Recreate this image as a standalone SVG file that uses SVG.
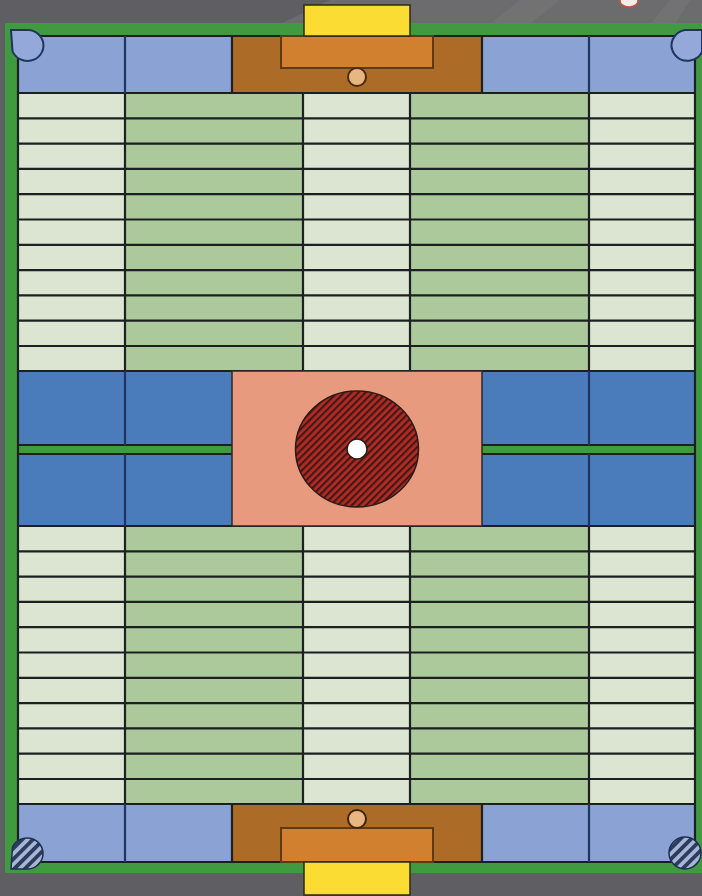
<svg xmlns="http://www.w3.org/2000/svg" width="702" height="896" viewBox="0 0 702 896">
<style>
.l{fill:#dbe5d1}.g{fill:#abc99b}.c{fill:#8aa2d4}.b{fill:#4a7cbb}
.ln{stroke:#1c2020;stroke-width:2.2;fill:none}
.nv{stroke:#1e3560;stroke-width:2.2;fill:none}
.cell{stroke:#2a2a26;stroke-width:1.5}
</style>
<defs>
<pattern id="hr" width="5" height="5" patternUnits="userSpaceOnUse" patternTransform="rotate(-45)"><rect width="5" height="5" fill="#b52a22"/><rect width="5" height="2.200" fill="#3f1a18"/></pattern>
<pattern id="hb" width="7.500" height="7.500" patternUnits="userSpaceOnUse" patternTransform="rotate(-45)"><rect width="7.500" height="7.500" fill="#a9b6d8"/><rect width="7.500" height="3.800" fill="#2c3c5e"/></pattern>
</defs>
<g id="background">
<rect width="702" height="896" fill="#5f5e63"/>
<path d="M280 24L330 0H702V24Z" fill="#6c6b6d"/>
<path d="M490 24L520 0H560L530 24ZM650 24L670 0H690L675 24Z" fill="#737273"/>
<ellipse cx="629" cy="1" rx="9" ry="6" fill="#f4ece8" stroke="#c8503c" stroke-width="1.500"/>
</g>
<g id="border"><rect x="5" y="23" width="697" height="850" fill="#409a3f"/></g>
<g id="top-end">
<rect class="c" x="18" y="36" width="214" height="57"/>
<rect class="c" x="482" y="36" width="213" height="57"/>
<rect x="232" y="36" width="250" height="57" fill="#ac6b26"/>
</g>
<g id="bottom-end">
<rect class="c" x="18" y="804" width="214" height="58"/>
<rect class="c" x="482" y="804" width="213" height="58"/>
<rect x="232" y="804" width="250" height="58" fill="#ac6b26"/>
</g>
<g id="upper-rows">
<rect class="l" x="18" y="93" width="107" height="278"/>
<rect class="g" x="125" y="93" width="178" height="278"/>
<rect class="l" x="303" y="93" width="107" height="278"/>
<rect class="g" x="410" y="93" width="179" height="278"/>
<rect class="l" x="589" y="93" width="106" height="278"/>
<path class="ln" d="M18 118.300H695M18 143.600H695M18 168.900H695M18 194.200H695M18 219.500H695M18 244.800H695M18 270.100H695M18 295.400H695M18 320.700H695M18 346H695"/>
</g>
<g id="lower-rows">
<rect class="l" x="18" y="526" width="107" height="278"/>
<rect class="g" x="125" y="526" width="178" height="278"/>
<rect class="l" x="303" y="526" width="107" height="278"/>
<rect class="g" x="410" y="526" width="179" height="278"/>
<rect class="l" x="589" y="526" width="106" height="278"/>
<path class="ln" d="M18 551.300H695M18 576.600H695M18 601.900H695M18 627.200H695M18 652.500H695M18 677.800H695M18 703.100H695M18 728.400H695M18 753.700H695M18 779H695"/>
</g>
<g id="midfield">
<rect class="b" x="18" y="371" width="214" height="74"/>
<rect class="b" x="482" y="371" width="213" height="74"/>
<rect class="b" x="18" y="454" width="214" height="72"/>
<rect class="b" x="482" y="454" width="213" height="72"/>
<path class="ln" d="M18 445H232M482 445H695M18 454H232M482 454H695"/>
</g>
<g id="grid-lines">
<path class="ln" d="M18 36V862M695 36V862M18 36H695M18 93H695M18 371H695M18 526H695M18 804H695M18 862H695"/>
<path class="ln" d="M303 93V371M410 93V371M303 526V804M410 526V804M125 93V371M589 93V371M125 526V804M589 526V804"/>
<path class="nv" d="M125 36V93M589 36V93M125 371V445M589 371V445M125 454V526M589 454V526M125 804V862M589 804V862"/>
<path class="ln" d="M232 36V93M482 36V93M232 804V862M482 804V862"/>
</g>
<g id="center">
<rect x="232" y="371" width="250" height="155" fill="#e89a7f" class="cell"/>
<ellipse cx="357" cy="449" rx="61.500" ry="58" fill="url(#hr)" stroke="#2a1a18" stroke-width="1.500"/>
<circle cx="357" cy="449" r="10" fill="#fff" stroke="#2a1a18" stroke-width="1.500"/>
</g>
<g id="top-goal">
<rect x="281" y="36" width="152" height="32" fill="#d0802e" stroke="#5e3a12" stroke-width="2"/>
<circle cx="357" cy="77" r="9" fill="#e9b681" stroke="#4b2a10" stroke-width="2"/>
<rect x="304" y="5" width="106" height="31" fill="#fbdc32" stroke="#2a2a1e" stroke-width="1.500"/>
</g>
<g id="bottom-goal">
<rect x="281" y="828" width="152" height="34" fill="#d0802e" stroke="#5e3a12" stroke-width="2"/>
<circle cx="357" cy="819" r="9" fill="#e9b681" stroke="#3c2410" stroke-width="2"/>
<rect x="304" y="862" width="106" height="33" fill="#fbdc32" stroke="#2a2a1e" stroke-width="1.500"/>
</g>
<g id="corner-top-left"><path d="M11 30H28A16 15.500 0 1 1 12.500 51Z" fill="#94a8da" stroke="#1e3560" stroke-width="2"/></g>
<g id="corner-top-right"><path d="M702 30H685A16 15.500 0 1 0 702 52Z" fill="#94a8da" stroke="#1e3560" stroke-width="2"/></g>
<g id="corner-bottom-left"><path d="M11 869H28A16 15.500 0 1 0 12.500 847Z" fill="url(#hb)" stroke="#1e2e50" stroke-width="1.500"/></g>
<g id="corner-bottom-right"><circle cx="685" cy="853" r="16" fill="url(#hb)" stroke="#1e2e50" stroke-width="1.500"/></g>
</svg>
